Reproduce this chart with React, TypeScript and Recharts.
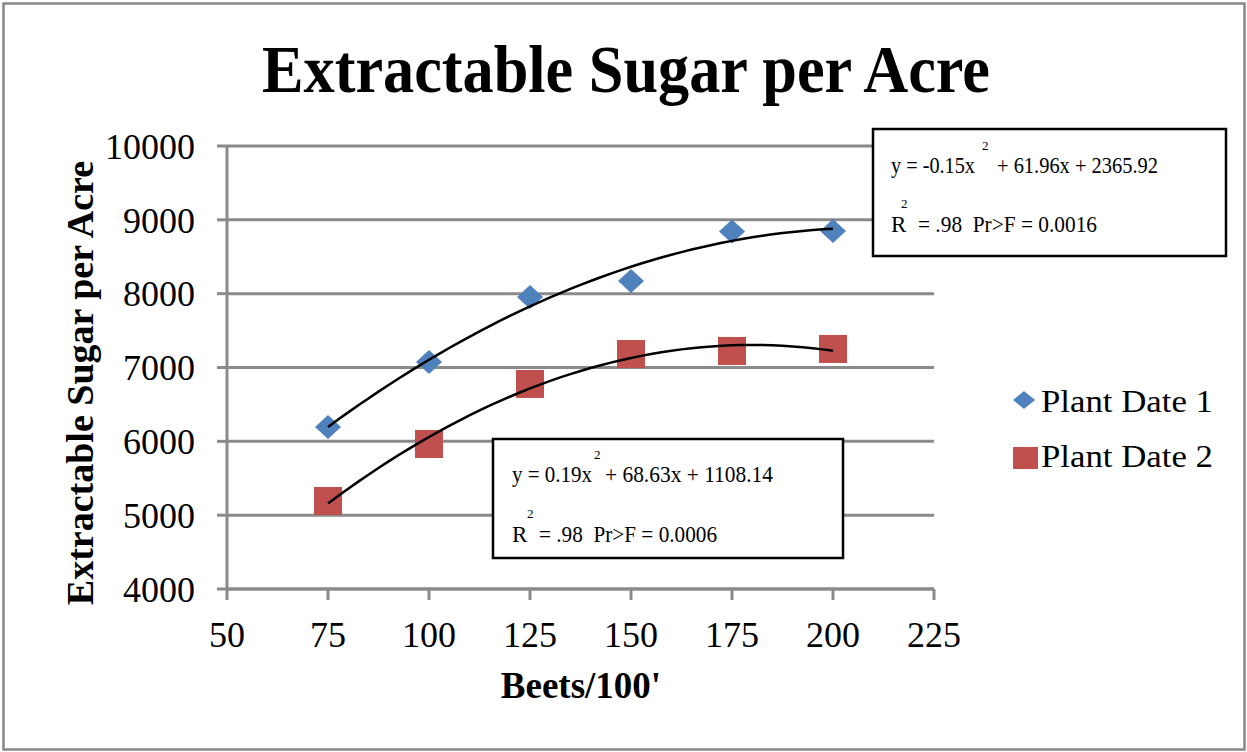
import React from 'react';
import { ScatterChart, Scatter, XAxis, YAxis, CartesianGrid, Legend, Customized } from 'recharts';

const beets = [75, 100, 125, 150, 175, 200];
const plantDate1 = [6194, 7075, 7955, 8172, 8842, 8849];
const plantDate2 = [5192, 5964, 6777, 7183, 7224, 7251];
const xTicks = [50, 75, 100, 125, 150, 175, 200, 225];
const yTicks = [4000, 5000, 6000, 7000, 8000, 9000, 10000];
const seriesNames = ['Plant Date 1', 'Plant Date 2'];
const seriesColors = ['#4F81BD', '#C0504D'];
const eq1 = ['y = -0.15x', '2', '+ 61.96x + 2365.92', 'R', '2', '= .98  Pr>F = 0.0016'];
const eq2 = ['y = 0.19x', '2', '+ 68.63x + 1108.14', 'R', '2', '= .98  Pr>F = 0.0006'];

const FONT = '"Liberation Serif", "Times New Roman", serif';
const GRID = '#8a8a8a';

const toPoints = (xs: number[], ys: number[]) => xs.map((x, i) => ({ x, y: ys[i] }));

// least-squares quadratic trendline (as the spreadsheet's polynomial trendline)
function quadFit(xs: number[], ys: number[]) {
  const n = xs.length;
  let s1 = 0, s2 = 0, s3 = 0, s4 = 0, t0 = 0, t1 = 0, t2 = 0;
  for (let i = 0; i < n; i++) {
    const x = xs[i], y = ys[i];
    s1 += x; s2 += x * x; s3 += x * x * x; s4 += x * x * x * x;
    t0 += y; t1 += x * y; t2 += x * x * y;
  }
  const M = [
    [n, s1, s2, t0],
    [s1, s2, s3, t1],
    [s2, s3, s4, t2],
  ];
  for (let c = 0; c < 3; c++) {
    for (let r = c + 1; r < 3; r++) {
      const f = M[r][c] / M[c][c];
      for (let k = c; k < 4; k++) M[r][k] -= f * M[c][k];
    }
  }
  const sol = [0, 0, 0];
  for (let r = 2; r >= 0; r--) {
    let v = M[r][3];
    for (let k = r + 1; k < 3; k++) v -= M[r][k] * sol[k];
    sol[r] = v / M[r][r];
  }
  return sol;
}

function trend(xs: number[], ys: number[]) {
  const [a, b, c] = quadFit(xs, ys);
  const lo = xs[0], hi = xs[xs.length - 1];
  const pts = [];
  const steps = 50;
  for (let i = 0; i <= steps; i++) {
    const x = lo + ((hi - lo) * i) / steps;
    pts.push({ x, y: a + b * x + c * x * x });
  }
  return pts;
}

const data1 = toPoints(beets, plantDate1);
const data2 = toPoints(beets, plantDate2);
const trend1 = trend(beets, plantDate1);
const trend2 = trend(beets, plantDate2);

const Diamond = (props: any) => {
  const { cx, cy } = props;
  if (cx == null || cy == null) return <g />;
  return (
    <polygon
      points={`${cx},${cy - 12} ${cx + 13},${cy} ${cx},${cy + 12} ${cx - 13},${cy}`}
      fill={seriesColors[0]}
    />
  );
};

const Square = (props: any) => {
  const { cx, cy } = props;
  if (cx == null || cy == null) return <g />;
  return <rect x={cx - 14} y={cy - 14} width={28} height={28} fill={seriesColors[1]} />;
};

const NoShape = () => <g />;

const pre = { whiteSpace: 'pre' as const };

const EqBox = ({ x, y, w, h, lines, pos }: any) => (
  <g>
    <rect x={x} y={y} width={w} height={h} fill="#fff" stroke="#000" strokeWidth={2.5} />
    <text x={pos.a1x} y={pos.l1} fontFamily={FONT} fontSize={23} fill="#000" textLength={pos.a1w} lengthAdjust="spacingAndGlyphs" style={pre}>{lines[0]}</text>
    <text x={pos.s1x} y={pos.s1y} fontFamily={FONT} fontSize={13} fill="#000">{lines[1]}</text>
    <text x={pos.b1x} y={pos.l1} fontFamily={FONT} fontSize={23} fill="#000" textLength={pos.b1w} lengthAdjust="spacingAndGlyphs" style={pre}>{lines[2]}</text>
    <text x={pos.a1x} y={pos.l2} fontFamily={FONT} fontSize={23} fill="#000">{lines[3]}</text>
    <text x={pos.s2x} y={pos.s2y} fontFamily={FONT} fontSize={13} fill="#000">{lines[4]}</text>
    <text x={pos.b2x} y={pos.l2} fontFamily={FONT} fontSize={23} fill="#000" textLength={pos.b2w} lengthAdjust="spacingAndGlyphs" style={pre}>{lines[5]}</text>
  </g>
);

const Annotations = () => (
  <g>
    <rect x={3.5} y={3.5} width={1241} height={746} fill="none" stroke="#878787" strokeWidth={2.5} />
    <text x={262} y={92} fontFamily={FONT} fontWeight="bold" fontSize={68} fill="#000" textLength={728} lengthAdjust="spacingAndGlyphs">
      Extractable Sugar per Acre
    </text>
    <text x={581} y={698} fontFamily={FONT} fontWeight="bold" fontSize={37} fill="#000" textAnchor="middle">
      Beets/100'
    </text>
    <text
      x={0}
      y={0}
      transform="translate(93,383) rotate(-90)"
      fontFamily={FONT}
      fontWeight="bold"
      fontSize={38}
      fill="#000"
      textAnchor="middle"
    >
      Extractable Sugar per Acre
    </text>
    <EqBox
      x={873}
      y={129}
      w={353}
      h={127}
      lines={eq1}
      pos={{ a1x: 891, a1w: 84, l1: 173, s1x: 982, s1y: 150, b1x: 997, b1w: 161, l2: 232, s2x: 901, s2y: 208, b2x: 918, b2w: 179 }}
    />
    <EqBox
      x={493}
      y={439}
      w={350}
      h={119}
      lines={eq2}
      pos={{ a1x: 512, a1w: 80, l1: 482, s1x: 594, s1y: 459, b1x: 605, b1w: 168, l2: 542, s2x: 527, s2y: 518, b2x: 539, b2w: 178 }}
    />
  </g>
);

const LegendContent = () => (
  <svg width={240} height={110} style={{ display: 'block' }}>
    <polygon points="19,13 30,22 19,31 8,22" fill={seriesColors[0]} />
    <text x={36} y={34} fontFamily={FONT} fontSize={32} fill="#000" textLength={172} lengthAdjust="spacingAndGlyphs">
      {seriesNames[0]}
    </text>
    <rect x={8} y={69} width={25} height={22} fill={seriesColors[1]} />
    <text x={36} y={89} fontFamily={FONT} fontSize={32} fill="#000" textLength={172} lengthAdjust="spacingAndGlyphs">
      {seriesNames[1]}
    </text>
  </svg>
);

export default function App() {
  return (
    <div style={{ position: 'absolute', left: 0, top: 0, width: 1247, height: 752, background: '#fff' }}>
      <ScatterChart width={1247} height={752} margin={{ top: 146, right: 313, bottom: 103, left: 0 }}>
        <CartesianGrid horizontal vertical={false} stroke={GRID} strokeWidth={3} />
        <XAxis
          type="number"
          dataKey="x"
          domain={[50, 225]}
          ticks={xTicks}
          interval={0}
          height={60}
          stroke={GRID}
          axisLine={{ stroke: GRID, strokeWidth: 3 }}
          tickLine={{ stroke: GRID, strokeWidth: 3 }}
          tickSize={11}
          tickMargin={21}
          tick={{ fontSize: 36, fill: '#000', fontFamily: FONT }}
          allowDataOverflow
        />
        <YAxis
          type="number"
          dataKey="y"
          domain={[4000, 10000]}
          ticks={yTicks}
          interval={0}
          width={227}
          axisLine={{ stroke: GRID, strokeWidth: 3 }}
          tickLine={{ stroke: GRID, strokeWidth: 3 }}
          tickSize={10}
          tickMargin={22}
          tick={{ fontSize: 36, fill: '#000', fontFamily: FONT }}
          allowDataOverflow
        />
        <Legend
          layout="vertical"
          align="center"
          verticalAlign="middle"
          content={LegendContent}
          wrapperStyle={{ left: 1005, top: 378, width: 240, height: 110 }}
        />
        <Scatter name={seriesNames[0]} data={data1} fill={seriesColors[0]} shape={Diamond} isAnimationActive={false} />
        <Scatter name={seriesNames[1]} data={data2} fill={seriesColors[1]} shape={Square} isAnimationActive={false} />
        <Scatter
          name="trend1"
          data={trend1}
          line={{ stroke: '#000', strokeWidth: 2.5 }}
          shape={NoShape}
          legendType="none"
          isAnimationActive={false}
        />
        <Scatter
          name="trend2"
          data={trend2}
          line={{ stroke: '#000', strokeWidth: 2.5 }}
          shape={NoShape}
          legendType="none"
          isAnimationActive={false}
        />
        <Customized component={Annotations} />
      </ScatterChart>
    </div>
  );
}
